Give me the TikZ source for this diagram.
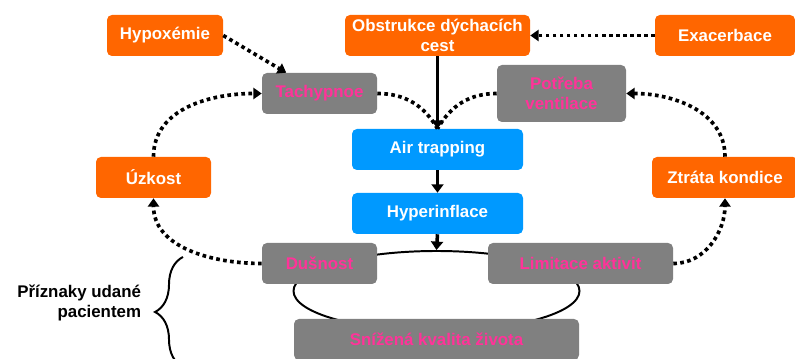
\documentclass[tikz,border=0pt]{standalone}
\usepackage{fontspec}
\setmainfont{Liberation Sans}
\usepackage{xcolor}
\definecolor{hrorange}{HTML}{FF6600}
\definecolor{hrblue}{HTML}{0099FF}
\definecolor{hrgray}{HTML}{808080}
\definecolor{hrpink}{HTML}{FF3399}
\usetikzlibrary{arrows.meta,shapes.geometric,decorations.pathreplacing}

\begin{document}
\begin{tikzpicture}[
    box/.style={rounded corners=3.5pt, inner sep=0pt, minimum height=1.025cm,
      align=center, font=\fontsize{12}{14.5}\selectfont\bfseries},
    cause/.style={box, fill=hrorange, text=white},
    lung/.style={box, fill=hrblue, text=white},
    sympt/.style={box, fill=hrgray, text=hrpink},
    flow/.style={line width=2.5pt, -{Triangle[length=6pt,width=8.5pt]}},
    feedback/.style={line width=2.6pt, dash pattern=on 2.6pt off 2.4pt},
    fbarrow/.style={feedback, -{Triangle[length=6pt,width=8pt]}}]
  \useasboundingbox (0,0) rectangle (19.875,8.975);

  % ring behind the symptom boxes
  \node[draw, ellipse, line width=1.4pt, inner sep=0pt,
        minimum width=7.15cm, minimum height=2cm](ring) at (10.9125,1.7) {};

  %% top row
  \node[cause, minimum width=2.9cm](hypox) at (4.125,8.0875) {Hypoxémie};
  \node[cause, minimum width=4.625cm](obstr) at (10.9375,8.0875) {Obstrukce dýchacích\\cest};
  \node[cause, minimum width=3.5cm](exac) at (18.125,8.0875) {Exacerbace};

  \node[sympt, minimum width=2.875cm](tachy) at (7.9875,6.6375) {Tachypnoe};
  \node[sympt, minimum width=3.225cm, minimum height=1.425cm](potreba) at (14.0375,6.6375) {Potřeba\\ventilace};

  %% middle column
  \node[lung, minimum width=4.275cm](air) at (10.9375,5.2375) {Air trapping};
  \node[lung, minimum width=4.275cm](hyper) at (10.9375,3.6375) {Hyperinflace};

  \node[cause, minimum width=2.875cm](uzkost) at (3.8375,4.5375) {Úzkost};
  \node[cause, minimum width=3.65cm](ztrata) at (18.125,4.5375) {Ztráta kondice};

  %% symptoms
  \node[sympt, minimum width=2.875cm](dusnost) at (7.9875,2.3875) {Dušnost};
  \node[sympt, minimum width=4.625cm](limit) at (14.5125,2.3875) {Limitace aktivit};
  \node[sympt, minimum width=7.125cm](sniz) at (10.9125,0.4875) {Snížená kvalita života};

  \draw[flow] (obstr.south) -- (air.north);
  \draw[flow] (air.south) -- (hyper.north);
  \draw[flow] (hyper.south) -- (ring.north);

  \draw[fbarrow] (exac.west) -- (obstr.east);
  \draw[fbarrow] (hypox.east) -- (tachy.148);
  \draw[feedback] (tachy.east) to[out=0,in=120] (air.north);
  \draw[feedback] (potreba.west) to[out=180,in=60] (air.north);

  % left and right loops
  \draw[fbarrow] (dusnost.west) to[out=180,in=270] (uzkost.south);
  \draw[fbarrow] (uzkost.north) to[out=90,in=180] (tachy.west);
  \draw[fbarrow] (limit.east) to[out=0,in=270] (ztrata.south);
  \draw[fbarrow] (ztrata.north) to[out=90,in=0] (potreba.east);

  %% patient reported
  \draw[line width=1.4pt, decorate, decoration={brace, amplitude=0.7cm}]
    (4.575,-0.2) -- (4.575,2.55);
  \node[anchor=east, align=right, font=\fontsize{12}{14.5}\selectfont\bfseries](pacient)
    at (3.65,1.4) {Příznaky udané\\pacientem};
\end{tikzpicture}
\end{document}
